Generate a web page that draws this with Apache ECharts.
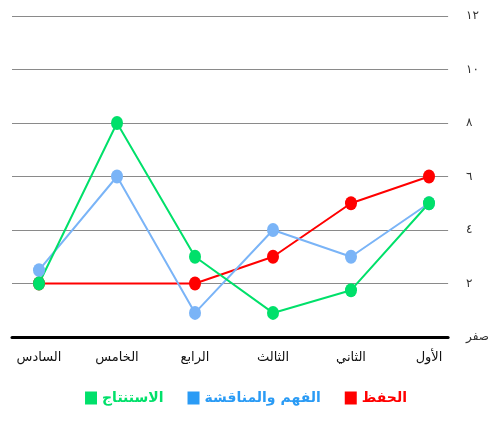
<!DOCTYPE html>
<html>
<head>
<meta charset="utf-8">
<script src="https://cdn.jsdelivr.net/npm/echarts@6/dist/echarts.min.js"></script>
<style>
html,body{margin:0;padding:0;background:#fff}
#divChart{width:492px;height:424px}
</style>
</head>
<body>
<div id="divChart"></div>
<script>
//data (categories run right-to-left in the picture)
var categories = ['الأول','الثاني','الثالث','الرابع','الخامس','السادس']
var hifz = [6, 5, 3, 2, null, 2]          //الحفظ
var fahm = [5, 3, 4, 0.9, 6, 2.5]         //الفهم والمناقشة
var istintaj = [5, 1.75, 0.9, 3, 8, 2]    //الاستنتاج
var yTicks = {0:'صفر',2:'٢',4:'٤',6:'٦',8:'٨',10:'١٠',12:'١٢'}

var colors = {red:'#ff0000', blue:'#7ab4f7', green:'#00e06a'}
var legendBlue = '#2a9bf5'
var arFont = '"DejaVu Serif","DejaVu Sans",serif'

var mk = (name,data,color)=>({
  name:name, type:'line', data:data, xAxisIndex:1, yAxisIndex:1,
  connectNulls:true, symbol:'circle', symbolSize:[12,14],
  lineStyle:{color:color,width:2}, itemStyle:{color:color},
  emphasis:{disabled:true}
})

var opt_o = {
  animation:false,
  grid:[
    {left:12, right:42, top:16, bottom:87},
    {left:0, right:24, top:16, bottom:87}
  ],
  xAxis:[
    {gridIndex:0, type:'value', min:0, max:1, show:true,
      axisLine:{show:true, onZero:false, lineStyle:{color:'#000',width:3}},
      axisTick:{show:false}, axisLabel:{show:false}, splitLine:{show:false}},
    {gridIndex:1, type:'category', data:categories, inverse:true, boundaryGap:true,
      axisLine:{show:false}, axisTick:{show:false}, splitLine:{show:false},
      axisLabel:{margin:14, color:'#111', fontSize:13, fontFamily:arFont}}
  ],
  yAxis:[
    {gridIndex:0, type:'value', position:'right', min:0, max:12, interval:2,
      axisLine:{show:false}, axisTick:{show:false},
      splitLine:{show:true, lineStyle:{color:'#8a8a8a', width:1}},
      axisLabel:{margin:18, color:'#333', fontSize:12, fontFamily:arFont, formatter:v=>yTicks[v]}},
    {gridIndex:1, type:'value', min:0, max:12, show:false, splitLine:{show:false}}
  ],
  legend:{
    top:386, left:'center', icon:'rect', itemWidth:12, itemHeight:13, itemGap:24,
    align:'left', selectedMode:false,
    textStyle:{fontSize:14, fontWeight:'bold', fontFamily:arFont},
    data:[
      {name:'الاستنتاج', textStyle:{color:colors.green}},
      {name:'الفهم والمناقشة', textStyle:{color:legendBlue}, itemStyle:{color:legendBlue}},
      {name:'الحفظ', textStyle:{color:colors.red}}
    ]
  },
  series:[
    mk('الحفظ', hifz, colors.red),
    mk('الفهم والمناقشة', fahm, colors.blue),
    mk('الاستنتاج', istintaj, colors.green)
  ]
}

var inst = echarts.init(document.getElementById('divChart'))
inst.setOption(opt_o, true)
</script>
</body>
</html>
